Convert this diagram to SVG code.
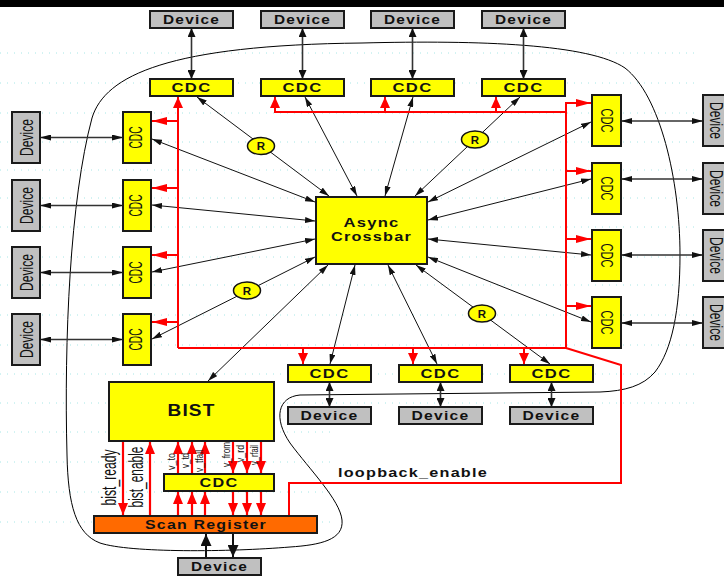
<svg xmlns="http://www.w3.org/2000/svg" width="724" height="576" viewBox="0 0 724 576">
<defs>
<style>
.dev{fill:#c0c0c0;stroke:#1a1a1a;stroke-width:2}
.cdc{fill:#ffff00;stroke:#1a1a1a;stroke-width:2}
.scan{fill:#ff6a00;stroke:#1a1a1a;stroke-width:2}
.rep{fill:#ffff00;stroke:#111;stroke-width:1.5}
.bt{font-family:"Liberation Sans",Arial,sans-serif;font-weight:bold;fill:#111;text-anchor:middle;letter-spacing:1px}
.nt{font-family:"Liberation Sans",Arial,sans-serif;fill:#111;text-anchor:middle}
.x{stroke:#111;stroke-width:1;fill:none;marker-start:url(#ak);marker-end:url(#ak)}
.dv{stroke:#333;stroke-width:1.6;fill:none;marker-start:url(#ad);marker-end:url(#ad)}
.dh{stroke:#333;stroke-width:1.4;fill:none;marker-start:url(#adh);marker-end:url(#adh)}
.r{stroke:#ff0000;stroke-width:2;fill:none}
.rva{stroke:#ff0000;stroke-width:2;fill:none;marker-end:url(#rv)}
.rha{stroke:#ff0000;stroke-width:2;fill:none;marker-end:url(#rh)}
.rba{stroke:#ff0000;stroke-width:2.2;fill:none;marker-end:url(#rb)}
.kba{stroke:#111;stroke-width:2;fill:none;marker-end:url(#kb)}
.grid{stroke:#a6e6e6;stroke-width:1;stroke-dasharray:1 6}
</style>
<marker id="ak" viewBox="0 0 10 6" refX="10" refY="3" markerWidth="10" markerHeight="6" orient="auto-start-reverse" markerUnits="userSpaceOnUse"><path d="M0,0L10,3L0,6z" fill="#111"/></marker>
<marker id="ad" viewBox="0 0 9 8" refX="9" refY="4" markerWidth="9" markerHeight="8" orient="auto-start-reverse" markerUnits="userSpaceOnUse"><path d="M0,0L9,4L0,8z" fill="#111"/></marker>
<marker id="adh" viewBox="0 0 11 6" refX="11" refY="3" markerWidth="11" markerHeight="6" orient="auto-start-reverse" markerUnits="userSpaceOnUse"><path d="M0,0L11,3L0,6z" fill="#111"/></marker>
<marker id="rv" viewBox="0 0 11 10" refX="11" refY="5" markerWidth="11" markerHeight="10" orient="auto" markerUnits="userSpaceOnUse"><path d="M0,0L11,5L0,10z" fill="#ff0000"/></marker>
<marker id="rh" viewBox="0 0 15 8" refX="15" refY="4" markerWidth="15" markerHeight="8" orient="auto" markerUnits="userSpaceOnUse"><path d="M0,0L15,4L0,8z" fill="#ff0000"/></marker>
<marker id="rb" viewBox="0 0 12 10" refX="12" refY="5" markerWidth="12" markerHeight="10" orient="auto" markerUnits="userSpaceOnUse"><path d="M0,0L12,5L0,10z" fill="#ff0000"/></marker>
<marker id="kb" viewBox="0 0 12 11" refX="12" refY="5.5" markerWidth="12" markerHeight="11" orient="auto" markerUnits="userSpaceOnUse"><path d="M0,0L12,5.5L0,11z" fill="#111"/></marker>
</defs>
<rect x="0" y="0" width="724" height="576" fill="#ffffff"/>
<rect x="0" y="0" width="724" height="7" fill="#000000"/>
<g id="grid">
<line class="grid" x1="0" y1="53" x2="700" y2="53"/>
<line class="grid" x1="0" y1="83" x2="700" y2="83"/>
<line class="grid" x1="0" y1="113" x2="700" y2="113"/>
<line class="grid" x1="0" y1="142" x2="700" y2="142"/>
<line class="grid" x1="0" y1="170" x2="700" y2="170"/>
<line class="grid" x1="0" y1="198" x2="700" y2="198"/>
<line class="grid" x1="0" y1="227" x2="700" y2="227"/>
<line class="grid" x1="0" y1="257" x2="700" y2="257"/>
<line class="grid" x1="0" y1="285" x2="700" y2="285"/>
<line class="grid" x1="0" y1="315" x2="700" y2="315"/>
<line class="grid" x1="0" y1="345" x2="700" y2="345"/>
<line class="grid" x1="0" y1="374" x2="700" y2="374"/>
<line class="grid" x1="0" y1="403" x2="700" y2="403"/>
<line class="grid" x1="0" y1="432" x2="335" y2="432"/>
<line class="grid" x1="0" y1="462" x2="335" y2="462"/>
<line class="grid" x1="0" y1="492" x2="335" y2="492"/>
<line class="grid" x1="0" y1="522" x2="335" y2="522"/>
</g>
<path id="boundary" d="M92 118 C105 75,170 45,362 43 C480 40,590 44,625 68 C660 95,680 180,680 255 C680 310,672 350,655 372 C643 386,625 391,600 392 L300 395 C278 397,273 418,290 443 C310 470,340 500,342 520 C344 540,320 545,290 547 C230 552,130 553,100 543 C76 534,68 505,67 455 C64 340,70 200,92 118 Z" fill="none" stroke="#000" stroke-width="1"/>
<g id="connectors">
<line class="dv" x1="191.5" y1="28" x2="191.5" y2="79"/>
<line class="dv" x1="302.5" y1="28" x2="302.5" y2="79"/>
<line class="dv" x1="412.5" y1="28" x2="412.5" y2="79"/>
<line class="dv" x1="523.5" y1="28" x2="523.5" y2="79"/>
<line class="dh" x1="40" y1="137.5" x2="123" y2="137.5"/>
<line class="dh" x1="40" y1="205.5" x2="123" y2="205.5"/>
<line class="dh" x1="40" y1="272.5" x2="123" y2="272.5"/>
<line class="dh" x1="40" y1="339.5" x2="123" y2="339.5"/>
<line class="dh" x1="621" y1="121" x2="703" y2="121"/>
<line class="dh" x1="621" y1="179" x2="703" y2="179"/>
<line class="dh" x1="621" y1="255" x2="703" y2="255"/>
<line class="dh" x1="621" y1="323" x2="703" y2="323"/>
<line class="dv" x1="329.5" y1="382" x2="329.5" y2="407"/>
<line class="dv" x1="440.5" y1="382" x2="440.5" y2="407"/>
<line class="dv" x1="551.5" y1="382" x2="551.5" y2="407"/>
<line class="x" x1="197" y1="97" x2="329" y2="196"/>
<line class="x" x1="305" y1="97" x2="357" y2="196"/>
<line class="x" x1="413" y1="97" x2="385" y2="196"/>
<line class="x" x1="520" y1="97" x2="415" y2="196"/>
<line class="x" x1="152" y1="139" x2="315" y2="202"/>
<line class="x" x1="152" y1="205" x2="315" y2="221"/>
<line class="x" x1="152" y1="272" x2="315" y2="239"/>
<line class="x" x1="152" y1="339" x2="315" y2="257"/>
<line class="x" x1="591" y1="122" x2="428" y2="202"/>
<line class="x" x1="591" y1="179" x2="428" y2="220"/>
<line class="x" x1="591" y1="255" x2="428" y2="239"/>
<line class="x" x1="591" y1="322" x2="428" y2="257"/>
<line class="x" x1="355" y1="265" x2="330" y2="364"/>
<line class="x" x1="388" y1="265" x2="437" y2="364"/>
<line class="x" x1="416" y1="265" x2="550" y2="364"/>
<line class="x" x1="328" y1="265" x2="208" y2="381"/>
<polyline class="r" points="178,348 566,348 566,103"/>
<line class="rva" x1="178" y1="348" x2="178" y2="97"/>
<line class="rha" x1="178" y1="121" x2="152" y2="121"/>
<line class="rha" x1="178" y1="188" x2="152" y2="188"/>
<line class="rha" x1="178" y1="255" x2="152" y2="255"/>
<line class="rha" x1="178" y1="322" x2="152" y2="322"/>
<line class="rva" x1="303" y1="348" x2="303" y2="364"/>
<line class="rva" x1="413" y1="348" x2="413" y2="364"/>
<line class="rva" x1="524" y1="348" x2="524" y2="364"/>
<line class="rha" x1="565" y1="103" x2="591" y2="103"/>
<line class="rha" x1="566" y1="171" x2="591" y2="171"/>
<line class="rha" x1="566" y1="239" x2="591" y2="239"/>
<line class="rha" x1="566" y1="306" x2="591" y2="306"/>
<line class="r" x1="275" y1="112" x2="566" y2="112"/>
<line class="rva" x1="275" y1="113" x2="275" y2="97"/>
<line class="rva" x1="385" y1="113" x2="385" y2="97"/>
<line class="rva" x1="496" y1="113" x2="496" y2="97"/>
<polyline class="r" points="566,348 621,365 621,483 289,483 289,516"/>
<line class="rba" x1="123" y1="441" x2="123" y2="515"/>
<line class="rba" x1="150" y1="516" x2="150" y2="442"/>
<line class="rba" x1="178" y1="474" x2="178" y2="442"/>
<line class="rba" x1="192" y1="474" x2="192" y2="442"/>
<line class="rba" x1="205" y1="474" x2="205" y2="442"/>
<line class="rba" x1="178" y1="516" x2="178" y2="492"/>
<line class="rba" x1="192" y1="516" x2="192" y2="492"/>
<line class="rba" x1="205" y1="516" x2="205" y2="492"/>
<line class="rba" x1="233" y1="441" x2="233" y2="473"/>
<line class="rba" x1="247" y1="441" x2="247" y2="473"/>
<line class="rba" x1="261" y1="441" x2="261" y2="473"/>
<line class="rba" x1="233" y1="491" x2="233" y2="515"/>
<line class="rba" x1="247" y1="491" x2="247" y2="515"/>
<line class="rba" x1="261" y1="491" x2="261" y2="515"/>
<line class="kba" x1="206" y1="558" x2="206" y2="534"/>
<line class="kba" x1="233" y1="533" x2="233" y2="557"/>
</g>
<g id="labels">
<text class="nt" font-size="20" textLength="56" lengthAdjust="spacingAndGlyphs" transform="translate(115.5,477.5) rotate(-90)">bist_ready</text>
<text class="nt" font-size="20" textLength="61" lengthAdjust="spacingAndGlyphs" transform="translate(142.5,477) rotate(-90)">bist_enable</text>
<text class="nt" font-size="10" textLength="17" lengthAdjust="spacingAndGlyphs" transform="translate(175,461.5) rotate(-90)">v_to</text>
<text class="nt" font-size="10" textLength="15" lengthAdjust="spacingAndGlyphs" transform="translate(189,460.5) rotate(-90)">v_td</text>
<text class="nt" font-size="10" textLength="22" lengthAdjust="spacingAndGlyphs" transform="translate(203,461) rotate(-90)">v_tfail</text>
<text class="nt" font-size="10" textLength="25" lengthAdjust="spacingAndGlyphs" transform="translate(230,454.5) rotate(-90)">v_from</text>
<text class="nt" font-size="10" textLength="17" lengthAdjust="spacingAndGlyphs" transform="translate(244,453.5) rotate(-90)">v_rd</text>
<text class="nt" font-size="10" textLength="20" lengthAdjust="spacingAndGlyphs" transform="translate(258,455) rotate(-90)">v_rfail</text>
<text class="bt" font-size="13" x="413" y="477" textLength="150" lengthAdjust="spacingAndGlyphs">loopback_enable</text>
</g>
<g id="dev-top-1"><rect class="dev" x="150" y="11" width="83" height="17"/><text class="bt" font-size="12.5" x="191.5" y="24" textLength="57" lengthAdjust="spacingAndGlyphs">Device</text></g>
<g id="dev-top-2"><rect class="dev" x="261" y="11" width="83" height="17"/><text class="bt" font-size="12.5" x="302.5" y="24" textLength="57" lengthAdjust="spacingAndGlyphs">Device</text></g>
<g id="dev-top-3"><rect class="dev" x="371" y="11" width="83" height="17"/><text class="bt" font-size="12.5" x="412.5" y="24" textLength="57" lengthAdjust="spacingAndGlyphs">Device</text></g>
<g id="dev-top-4"><rect class="dev" x="482" y="11" width="83" height="17"/><text class="bt" font-size="12.5" x="523.5" y="24" textLength="57" lengthAdjust="spacingAndGlyphs">Device</text></g>
<g id="cdc-top-1"><rect class="cdc" x="150" y="79" width="83" height="17"/><text class="bt" font-size="12.5" x="191.5" y="91.5" textLength="40" lengthAdjust="spacingAndGlyphs">CDC</text></g>
<g id="cdc-top-2"><rect class="cdc" x="261" y="79" width="83" height="17"/><text class="bt" font-size="12.5" x="302.5" y="91.5" textLength="40" lengthAdjust="spacingAndGlyphs">CDC</text></g>
<g id="cdc-top-3"><rect class="cdc" x="371" y="79" width="83" height="17"/><text class="bt" font-size="12.5" x="412.5" y="91.5" textLength="40" lengthAdjust="spacingAndGlyphs">CDC</text></g>
<g id="cdc-top-4"><rect class="cdc" x="482" y="79" width="83" height="17"/><text class="bt" font-size="12.5" x="523.5" y="91.5" textLength="40" lengthAdjust="spacingAndGlyphs">CDC</text></g>
<g id="dev-left-1"><rect class="dev" x="12" y="112" width="28" height="51"/><text class="nt" font-size="19" textLength="37" lengthAdjust="spacingAndGlyphs" transform="translate(32.5,137.5) rotate(-90)">Device</text></g>
<g id="dev-left-2"><rect class="dev" x="12" y="180" width="28" height="51"/><text class="nt" font-size="19" textLength="37" lengthAdjust="spacingAndGlyphs" transform="translate(32.5,205.5) rotate(-90)">Device</text></g>
<g id="dev-left-3"><rect class="dev" x="12" y="247" width="28" height="51"/><text class="nt" font-size="19" textLength="37" lengthAdjust="spacingAndGlyphs" transform="translate(32.5,272.5) rotate(-90)">Device</text></g>
<g id="dev-left-4"><rect class="dev" x="12" y="314" width="28" height="51"/><text class="nt" font-size="19" textLength="37" lengthAdjust="spacingAndGlyphs" transform="translate(32.5,339.5) rotate(-90)">Device</text></g>
<g id="cdc-left-1"><rect class="cdc" x="123" y="112" width="28" height="51"/><text class="nt" font-size="19" textLength="22" lengthAdjust="spacingAndGlyphs" transform="translate(142,137.5) rotate(-90)">CDC</text></g>
<g id="cdc-left-2"><rect class="cdc" x="123" y="180" width="28" height="51"/><text class="nt" font-size="19" textLength="22" lengthAdjust="spacingAndGlyphs" transform="translate(142,205.5) rotate(-90)">CDC</text></g>
<g id="cdc-left-3"><rect class="cdc" x="123" y="247" width="28" height="51"/><text class="nt" font-size="19" textLength="22" lengthAdjust="spacingAndGlyphs" transform="translate(142,272.5) rotate(-90)">CDC</text></g>
<g id="cdc-left-4"><rect class="cdc" x="123" y="314" width="28" height="51"/><text class="nt" font-size="19" textLength="22" lengthAdjust="spacingAndGlyphs" transform="translate(142,339.5) rotate(-90)">CDC</text></g>
<g id="cdc-right-1"><rect class="cdc" x="592" y="95" width="29" height="51"/><text class="nt" font-size="17" textLength="24" lengthAdjust="spacingAndGlyphs" transform="translate(601,120.5) rotate(90)">CDC</text></g>
<g id="cdc-right-2"><rect class="cdc" x="592" y="163" width="29" height="51"/><text class="nt" font-size="17" textLength="24" lengthAdjust="spacingAndGlyphs" transform="translate(601,188.5) rotate(90)">CDC</text></g>
<g id="cdc-right-3"><rect class="cdc" x="592" y="230" width="29" height="51"/><text class="nt" font-size="17" textLength="24" lengthAdjust="spacingAndGlyphs" transform="translate(601,255.5) rotate(90)">CDC</text></g>
<g id="cdc-right-4"><rect class="cdc" x="592" y="297" width="29" height="51"/><text class="nt" font-size="17" textLength="24" lengthAdjust="spacingAndGlyphs" transform="translate(601,322.5) rotate(90)">CDC</text></g>
<g id="dev-right-1"><rect class="dev" x="703" y="95" width="30" height="51"/><text class="nt" font-size="19" textLength="37" lengthAdjust="spacingAndGlyphs" transform="translate(710,120.5) rotate(90)">Device</text></g>
<g id="dev-right-2"><rect class="dev" x="703" y="163" width="30" height="51"/><text class="nt" font-size="19" textLength="37" lengthAdjust="spacingAndGlyphs" transform="translate(710,188.5) rotate(90)">Device</text></g>
<g id="dev-right-3"><rect class="dev" x="703" y="230" width="30" height="51"/><text class="nt" font-size="19" textLength="37" lengthAdjust="spacingAndGlyphs" transform="translate(710,255.5) rotate(90)">Device</text></g>
<g id="dev-right-4"><rect class="dev" x="703" y="297" width="30" height="51"/><text class="nt" font-size="19" textLength="37" lengthAdjust="spacingAndGlyphs" transform="translate(710,322.5) rotate(90)">Device</text></g>
<g id="crossbar"><rect class="cdc" x="316" y="197" width="111" height="67"/><text class="bt" font-size="13.5" x="371.5" y="226.5" textLength="56" lengthAdjust="spacingAndGlyphs">Async</text><text class="bt" font-size="13.5" x="371.5" y="241" textLength="81" lengthAdjust="spacingAndGlyphs">Crossbar</text></g>
<g id="cdc-bot-1"><rect class="cdc" x="288" y="365" width="83" height="17"/><text class="bt" font-size="12.5" x="329.5" y="377.5" textLength="40" lengthAdjust="spacingAndGlyphs">CDC</text></g>
<g id="cdc-bot-2"><rect class="cdc" x="399" y="365" width="83" height="17"/><text class="bt" font-size="12.5" x="440.5" y="377.5" textLength="40" lengthAdjust="spacingAndGlyphs">CDC</text></g>
<g id="cdc-bot-3"><rect class="cdc" x="510" y="365" width="83" height="17"/><text class="bt" font-size="12.5" x="551.5" y="377.5" textLength="40" lengthAdjust="spacingAndGlyphs">CDC</text></g>
<g id="dev-bot-1"><rect class="dev" x="288" y="407" width="83" height="17"/><text class="bt" font-size="12.5" x="329.5" y="420" textLength="58" lengthAdjust="spacingAndGlyphs">Device</text></g>
<g id="dev-bot-2"><rect class="dev" x="399" y="407" width="83" height="17"/><text class="bt" font-size="12.5" x="440.5" y="420" textLength="58" lengthAdjust="spacingAndGlyphs">Device</text></g>
<g id="dev-bot-3"><rect class="dev" x="510" y="407" width="83" height="17"/><text class="bt" font-size="12.5" x="551.5" y="420" textLength="58" lengthAdjust="spacingAndGlyphs">Device</text></g>
<g id="bist"><rect class="cdc" x="109" y="382" width="165" height="59"/><text class="bt" font-size="16.5" x="191.5" y="416" textLength="48" lengthAdjust="spacingAndGlyphs">BIST</text></g>
<g id="cdc-bist"><rect class="cdc" x="164" y="474" width="110" height="17"/><text class="bt" font-size="12.5" x="219" y="487" textLength="39" lengthAdjust="spacingAndGlyphs">CDC</text></g>
<g id="scan-register"><rect class="scan" x="94" y="516" width="223" height="17"/><text class="bt" font-size="13" x="206" y="529" textLength="122" lengthAdjust="spacingAndGlyphs">Scan Register</text></g>
<g id="dev-scan"><rect class="dev" x="178" y="558" width="83" height="17"/><text class="bt" font-size="12.5" x="219.5" y="571" textLength="57" lengthAdjust="spacingAndGlyphs">Device</text></g>
<g id="rep-1"><ellipse class="rep" cx="261" cy="146" rx="13.5" ry="8.5"/><text class="bt" font-size="11.5" x="261.5" y="150">R</text></g>
<g id="rep-2"><ellipse class="rep" cx="475" cy="139.5" rx="13.5" ry="8.5"/><text class="bt" font-size="11.5" x="475.5" y="143.5">R</text></g>
<g id="rep-3"><ellipse class="rep" cx="247" cy="290.5" rx="13.5" ry="8.5"/><text class="bt" font-size="11.5" x="247.5" y="294.5">R</text></g>
<g id="rep-4"><ellipse class="rep" cx="482" cy="313.5" rx="13.5" ry="8.5"/><text class="bt" font-size="11.5" x="482.5" y="317.5">R</text></g>
</svg>
